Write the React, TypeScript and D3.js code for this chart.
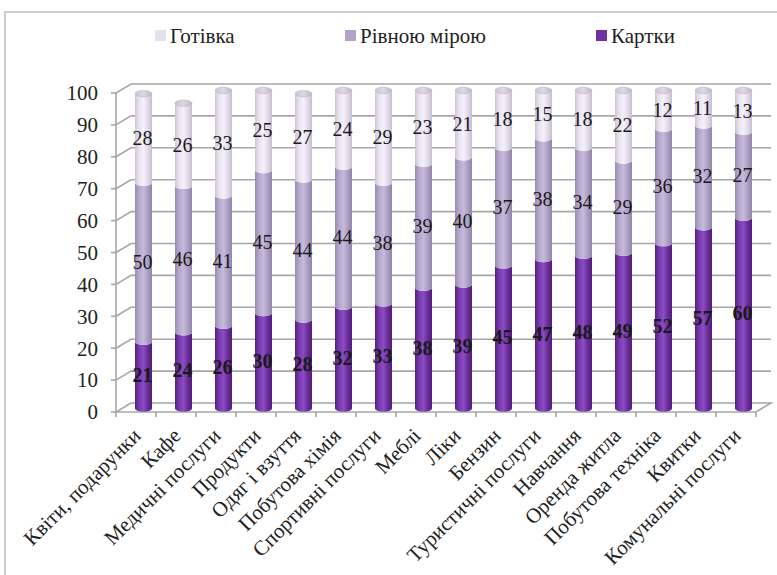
import React, { useEffect, useRef } from 'react';
import * as d3 from 'd3';

const categories = [
  'Квіти, подарунки', 'Кафе', 'Медичні послуги', 'Продукти', 'Одяг і взуття',
  'Побутова хімія', 'Спортивні послуги', 'Меблі', 'Ліки', 'Бензин',
  'Туристичні послуги', 'Навчання', 'Оренда житла', 'Побутова техніка',
  'Квитки', 'Комунальні послуги',
];
const cards = [21, 24, 26, 30, 28, 32, 33, 38, 39, 45, 47, 48, 49, 52, 57, 60];
const equally = [50, 46, 41, 45, 44, 44, 38, 39, 40, 37, 38, 34, 29, 36, 32, 27];
const cash = [28, 26, 33, 25, 27, 24, 29, 23, 21, 18, 15, 18, 22, 12, 11, 13];
const yTicks = [0, 10, 20, 30, 40, 50, 60, 70, 80, 90, 100];

const series = [
  { key: 'cards', name: 'Картки', values: cards, bold: true, stops: ['#55207f', '#7a3ab0', '#8a4cc0', '#6a2c9a', '#4f1d77'], legend: '#7030a0' },
  { key: 'equally', name: 'Рівною мірою', values: equally, bold: false, stops: ['#9a8bb0', '#b6a8cc', '#c6badb', '#ac9ec3', '#9384a8'], legend: '#b3a2c7' },
  { key: 'cash', name: 'Готівка', values: cash, bold: false, stops: ['#cdc6d6', '#e9e3f0', '#f5f1f9', '#e2dbea', '#c6bed0'], legend: '#e6e0ec' },
];

const W = 777;
const H = 575;
const font = 'Liberation Serif';

export default function App() {
  const svgRef = useRef<SVGSVGElement>(null);

  useEffect(() => {
    if (!svgRef.current) return;
    const svg = d3.select(svgRef.current);
    svg.selectAll('*').remove();

    const depth = { dx: 15, dy: -9 };
    const x = d3.scaleBand().domain(categories).range([116, 756]);
    const yFront = d3.scaleLinear().domain([0, 100]).range([412, 93]);
    const yBack = d3.scaleLinear().domain([0, 100]).range([412 + depth.dy, 93 + depth.dy]);
    const yBar = d3.scaleLinear().domain([0, 100]).range([408.5, 90.5]);

    const defs = svg.append('defs');
    series.forEach(s => {
      const g = defs.append('linearGradient').attr('id', `grad-${s.key}`)
        .attr('x1', 0).attr('x2', 1).attr('y1', 0).attr('y2', 0);
      s.stops.forEach((c, i) => g.append('stop').attr('offset', i / (s.stops.length - 1)).attr('stop-color', c));
    });
    const cap = defs.append('linearGradient').attr('id', 'grad-cap').attr('x1', 0).attr('x2', 1);
    cap.append('stop').attr('offset', 0).attr('stop-color', '#c9c3cf');
    cap.append('stop').attr('offset', 0.5).attr('stop-color', '#ddd8e2');
    cap.append('stop').attr('offset', 1).attr('stop-color', '#bdb6c4');

    // outer frame
    svg.append('path')
      .attr('d', `M5,${H} L5,12 L${W},12`)
      .attr('fill', 'none').attr('stroke', '#bfbfbf').attr('stroke-width', 1.5);

    // legend
    const legendItems = [
      { s: series[2], x: 155 },
      { s: series[1], x: 345 },
      { s: series[0], x: 596 },
    ];
    legendItems.forEach(({ s, x: lx }) => {
      svg.append('rect').attr('x', lx).attr('y', 30).attr('width', 11).attr('height', 11).attr('fill', s.legend);
      svg.append('text').attr('x', lx + 15).attr('y', 43)
        .attr('font-family', font).attr('font-size', 21).attr('fill', '#222')
        .text(s.name);
    });

    const grid = svg.append('g').attr('fill', 'none').attr('stroke', '#a6a6a6').attr('stroke-width', 1.6);
    const x0 = 116;
    const x1 = 756;
    yTicks.forEach(t => {
      if (t > 0) {
        grid.append('path')
          .attr('d', `M${x0},${yFront(t)} L${x0 + depth.dx},${yBack(t)} L${x1 + depth.dx},${yBack(t)}`);
      }
      grid.append('line').attr('x1', x0 - 5).attr('x2', x0).attr('y1', yFront(t)).attr('y2', yFront(t));
    });
    // floor
    grid.append('path')
      .attr('d', `M${x0 + depth.dx},${yBack(0)} L${x1 + depth.dx},${yBack(0)} L${x1},${yFront(0)} L${x0},${yFront(0)} Z`);
    grid.append('line').attr('x1', x0).attr('x2', x0).attr('y1', yFront(100)).attr('y2', yFront(0));
    [...categories.map(c => x(c) as number), x1].forEach(v => {
      grid.append('line').attr('x1', v).attr('x2', v).attr('y1', yFront(0)).attr('y2', yFront(0) + 5);
    });

    // y tick labels
    svg.append('g').selectAll('text').data(yTicks).join('text')
      .attr('x', 98).attr('y', d => yFront(d)).attr('dy', '0.35em')
      .attr('text-anchor', 'end')
      .attr('font-family', font).attr('font-size', 21).attr('fill', '#222')
      .text(d => d);

    // cylinders
    const rx = 8.5;
    const ry = 3.2;
    const bars = svg.append('g');
    categories.forEach((c, i) => {
      const cx = (x(c) as number) + x.bandwidth() / 2 + depth.dx / 2;
      let acc = 0;
      series.forEach(s => {
        const v = s.values[i];
        const yb = yBar(acc);
        const yt = yBar(acc + v);
        acc += v;
        bars.append('path')
          .attr('d', `M${cx - rx},${yt} A${rx},${ry} 0 0 0 ${cx + rx},${yt} L${cx + rx},${yb} A${rx},${ry} 0 0 1 ${cx - rx},${yb} Z`)
          .attr('fill', `url(#grad-${s.key})`);
      });
      bars.append('ellipse')
        .attr('cx', cx).attr('cy', yBar(acc)).attr('rx', rx).attr('ry', ry)
        .attr('fill', 'url(#grad-cap)').attr('stroke', '#b8b1bf').attr('stroke-width', 0.6);
    });

    // data labels
    const labels = svg.append('g');
    categories.forEach((c, i) => {
      const cx = (x(c) as number) + x.bandwidth() / 2 + depth.dx / 2 - 1;
      let acc = 0;
      series.forEach(s => {
        const v = s.values[i];
        const mid = acc + v / 2;
        acc += v;
        labels.append('text')
          .attr('x', cx).attr('y', yBar(mid)).attr('dy', '0.35em')
          .attr('text-anchor', 'middle')
          .attr('font-family', font).attr('font-size', 20)
          .attr('font-weight', s.bold ? 'bold' : 'normal')
          .attr('fill', '#1a1a1a')
          .text(v);
      });
    });

    // category labels
    svg.append('g').selectAll('text').data(categories).join('text')
      .attr('transform', d => `translate(${(x(d) as number) + x.bandwidth() / 2 + 6},437) rotate(-45)`)
      .attr('text-anchor', 'end')
      .attr('font-family', font).attr('font-size', 21).attr('fill', '#222')
      .text(d => d);
  }, []);

  return (
    <svg ref={svgRef} width={W} height={H} fontFamily={font}
      style={{ position: 'absolute', left: 0, top: 0, background: '#fff' }} />
  );
}
